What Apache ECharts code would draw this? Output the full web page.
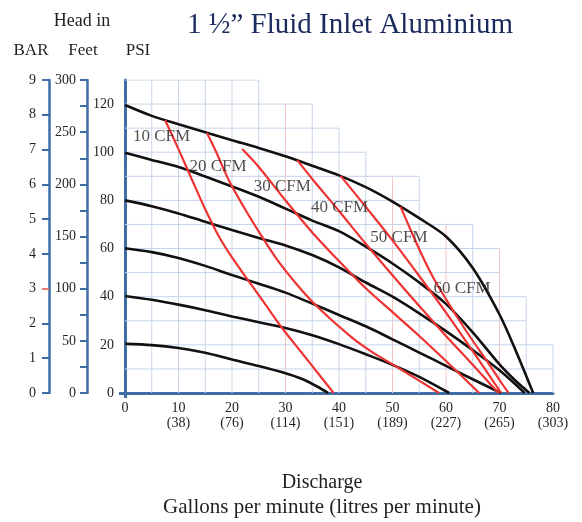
<!DOCTYPE html>
<html><head><meta charset="utf-8">
<script src="https://cdn.jsdelivr.net/npm/echarts@6/dist/echarts.min.js"></script>
<style>html,body{margin:0;padding:0;background:#fff}#c{width:582px;height:522px}</style>
</head><body><div id="c"></div>
<script>
// ---- data ----
const gpmTicks = [0, 10, 20, 30, 40, 50, 60, 70, 80];
const lpmTicks = ['', 38, 76, 114, 151, 189, 227, 265, 303];
// top of the background grid for each 5-GPM column (PSI)
const gridColumnTops = [130,130,130,130,130,120,120,110,100,90,90,70,70,60,40,20];
const pinkGridX = [30, 50, 60, 70];

// head curves [GPM, PSI] for each air inlet pressure
const head120 = [[0,119.6],[5,115.1],[10,111.6],[15,108.3],[20,105],[25,101.8],[30,98.3],[35,94.4],[40,90.4],[45,85.5],[50,79.5],[55,72.6],[60,65],[65,51.9],[70,32.6],[73,17.8],[76.3,0]];
const head100 = [[0,99.8],[5,96.8],[10,93.9],[15,89.9],[20,85.8],[25,81.5],[30,76.6],[35,71.6],[40,67.2],[45,60.8],[50,53.8],[55,45.9],[60,37],[65,25.2],[70,11.9],[73,5.1],[75.6,0]];
const head80  = [[0,80],[5,77.6],[10,74.6],[15,71.1],[20,67.7],[25,64.4],[30,61.3],[35,57.3],[40,52.2],[45,45.9],[50,40],[55,33.1],[60,25.7],[65,17.8],[70,9.4],[74.7,0]];
const head60  = [[0,60.1],[5,58.5],[10,56.1],[15,52.8],[20,49],[25,45.4],[30,41.7],[35,37.1],[40,32.4],[45,27.7],[50,22.3],[55,16.8],[60,11.3],[65,5.7],[70.3,0]];
const head40  = [[0,40.3],[5,38.7],[10,36.7],[15,34.4],[20,31.8],[25,29.4],[30,27],[35,24],[40,20.3],[45,16.1],[50,11.7],[55,6.7],[60.6,0]];
const head20  = [[0,20.4],[5,19.9],[10,18.7],[15,16.7],[20,13.9],[25,11.2],[30,8.2],[33,5.9],[36,2.6],[38,0]];

// air consumption curves [GPM, PSI]
const cfm10 = [[7.5,113.3],[10,101.3],[12.5,88.7],[15,76.3],[17.5,65.2],[20,56.3],[23.4,45.6],[26,37.5],[29.4,26.9],[33,16.8],[36,8.4],[39,0]];
const cfm20 = [[15.3,108.1],[17,100.3],[19.5,87.9],[22.5,76.1],[25.3,66],[28.4,55.5],[32,45.4],[35.9,35.9],[42.2,23.4],[46,17.3],[51.2,10.3],[58.7,0]];
const cfm30 = [[21.9,101.3],[25,93.9],[30,80],[35,66.7],[40,54.8],[45,43.5],[50,33.6],[55,23.7],[60,13.3],[66.2,0]];
const cfm40 = [[32.2,96.7],[35,88.9],[40,75.6],[45,62],[50,48.9],[55,36.1],[60,23.7],[65,11.7],[69.8,0]];
const cfm50 = [[40.3,90.2],[45,77.3],[50,63.4],[55,48.6],[60,33.4],[65,17.4],[70.3,0]];
const cfm60 = [[51.5,77.4],[53.5,67.2],[55.5,57.3],[57.5,48.4],[60,39],[62.5,30.1],[65,21.7],[67.5,13.8],[70,5.4],[71.7,0]];

const cfmNames = ['10 CFM','20 CFM','30 CFM','40 CFM','50 CFM','60 CFM'];
const cfmLabelAnchors = [[6.84,106.5],[17.4,94.1],[29.4,85.8],[40.1,77.1],[51.2,64.5],[63,43.5]];

// ---- styling ----
const AX = '#3f6ea6';
const GRIDC = '#c6d5ea';
const PINK = '#f5c6c6';
const TXT = '#231f20';
const FONT = '"Liberation Serif", "Times New Roman", serif';

const series = [];
// background stepped grid
for (let k = 1; k <= gridColumnTops.length; k++) {
  const x = k * 5;
  const top = Math.max(gridColumnTops[k - 1], gridColumnTops[k] || 0);
  series.push({ type: 'line', silent: true, symbol: 'none', z: 1,
    lineStyle: { color: pinkGridX.includes(x) ? PINK : GRIDC, width: 1 },
    data: [[x, 0], [x, top]] });
}
for (let y = 10; y <= 130; y += 10) {
  let n = 0;
  while (n < gridColumnTops.length && gridColumnTops[n] >= y) n++;
  series.push({ type: 'line', silent: true, symbol: 'none', z: 1,
    lineStyle: { color: GRIDC, width: 1 },
    data: [[0, y], [n * 5, y]] });
}
[head120, head100, head80, head60, head40, head20].forEach(d => {
  series.push({ type: 'line', symbol: 'none', smooth: 0.3, z: 3,
    lineStyle: { color: '#111', width: 2.6 }, data: d });
});
[cfm10, cfm20, cfm30, cfm40, cfm50, cfm60].forEach(d => {
  series.push({ type: 'line', symbol: 'none', smooth: 0.3, z: 4,
    lineStyle: { color: '#ee3333', width: 2.2 }, data: d });
});
series.push({ type: 'scatter', symbolSize: 1, z: 5, itemStyle: { color: 'rgba(0,0,0,0)' },
  label: { show: true, position: 'inside', formatter: '{b}', color: TXT, fontFamily: FONT, fontSize: 17 },
  data: cfmLabelAnchors.map((p, i) => ({ value: p, name: cfmNames[i] })) });

const tickLabel = { color: TXT, fontFamily: FONT, fontSize: 14 };

const option = {
  animation: false,
  grid: { left: 125, right: 29, top: 80, bottom: 129, outerBoundsMode: 'none' },
  xAxis: {
    type: 'value', min: 0, max: 80, interval: 10,
    axisLine: { lineStyle: { color: AX, width: 3 } },
    axisTick: { show: true, customValues: [0], length: 5, lineStyle: { color: AX, width: 3 } },
    splitLine: { show: false },
    axisLabel: Object.assign({}, tickLabel, { margin: 8, lineHeight: 15,
      formatter: v => { const i = gpmTicks.indexOf(v); return (i < 0 || lpmTicks[i] === '') ? String(v) : v + '\n(' + lpmTicks[i] + ')'; } })
  },
  yAxis: [
    { type: 'value', position: 'left', min: 0, max: 130, interval: 20,
      axisLine: { show: true, lineStyle: { color: AX, width: 3 } },
      axisTick: { show: true, customValues: [0], length: 6, lineStyle: { color: AX, width: 3 } },
      splitLine: { show: false },
      axisLabel: Object.assign({}, tickLabel, { margin: 11, formatter: v => v > 120 ? '' : String(v) }) },
    { type: 'value', position: 'left', offset: 38, min: 0, max: 300, interval: 50,
      axisLine: { show: true, lineStyle: { color: AX, width: 2.5 } },
      axisTick: { show: true, length: 7, lineStyle: { color: AX, width: 2 } },
      minorTick: { show: true, splitNumber: 2, length: 7, lineStyle: { color: AX, width: 2 } },
      splitLine: { show: false },
      axisLabel: Object.assign({}, tickLabel, { margin: 11 }) },
    { type: 'value', position: 'left', offset: 76, min: 0, max: 9, interval: 1,
      axisLine: { show: true, lineStyle: { color: AX, width: 2.5 } },
      axisTick: { show: true, length: 7, lineStyle: { color: AX, width: 2 } },
      splitLine: { show: false },
      axisLabel: Object.assign({}, tickLabel, { margin: 13 }) },
    { type: 'value', position: 'left', offset: 76, min: 0, max: 9, interval: 1,
      axisLine: { show: false },
      axisTick: { show: true, customValues: [3], length: 7, lineStyle: { color: '#ee7777', width: 2 } },
      splitLine: { show: false },
      axisLabel: { show: false } }
  ],
  graphic: [
    { type: 'text', x: 350, y: 25, style: { text: '1 ½” Fluid Inlet Aluminium', font: '29px ' + FONT, fill: '#1b2a5e', textAlign: 'center', textVerticalAlign: 'middle' } },
    { type: 'text', x: 82, y: 21, style: { text: 'Head in', font: '18px ' + FONT, fill: TXT, textAlign: 'center', textVerticalAlign: 'middle' } },
    { type: 'text', x: 31, y: 51, style: { text: 'BAR', font: '17px ' + FONT, fill: TXT, textAlign: 'center', textVerticalAlign: 'middle' } },
    { type: 'text', x: 83, y: 51, style: { text: 'Feet', font: '17px ' + FONT, fill: TXT, textAlign: 'center', textVerticalAlign: 'middle' } },
    { type: 'text', x: 138, y: 51, style: { text: 'PSI', font: '17px ' + FONT, fill: TXT, textAlign: 'center', textVerticalAlign: 'middle' } },
    { type: 'text', x: 322, y: 483, style: { text: 'Discharge', font: '20px ' + FONT, fill: TXT, textAlign: 'center', textVerticalAlign: 'middle' } },
    { type: 'text', x: 322, y: 507, style: { text: 'Gallons per minute (litres per minute)', font: '21px ' + FONT, fill: TXT, textAlign: 'center', textVerticalAlign: 'middle' } }
  ],
  series: series.map(s => Object.assign({ yAxisIndex: 0, xAxisIndex: 0 }, s))
};
const chart = echarts.init(document.getElementById('c'), null, { renderer: 'canvas' });
chart.setOption(option);
</script>
</body></html>
